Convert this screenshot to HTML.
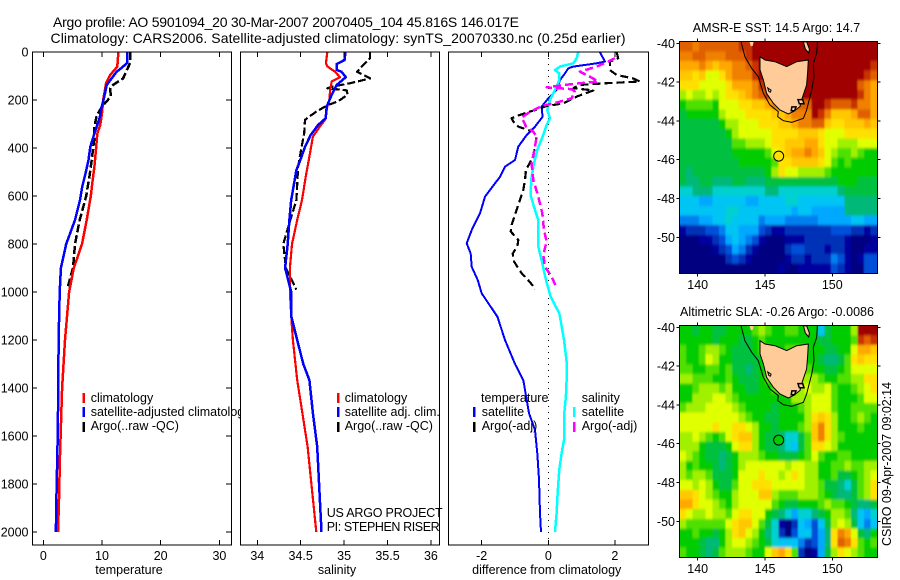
<!DOCTYPE html>
<html lang="en">
<head>
<meta charset="utf-8">
<title>Argo profile AO 5901094_20</title>
<style>
html,body{margin:0;padding:0;background:#fff;width:900px;height:580px;overflow:hidden}
svg{display:block}
text{font-family:"Liberation Sans",sans-serif;font-size:12.5px;fill:#000}
.ttl{font-size:14px}
</style>
</head>
<body>
<svg xmlns="http://www.w3.org/2000/svg" width="900" height="580" viewBox="0 0 900 580">
<defs>
<filter id="map-smooth" filterUnits="userSpaceOnUse" x="660" y="20" width="240" height="560"><feGaussianBlur stdDeviation="0.9 1.3"/></filter>
<clipPath id="sst-clip"><rect x="679.5" y="41.5" width="198" height="232"/></clipPath>
<clipPath id="sla-clip"><rect x="679.5" y="325.5" width="198" height="232"/></clipPath>
</defs>
<rect x="0" y="0" width="900" height="580" fill="#fff"/>
<text class="ttl" x="53" y="27" textLength="466" lengthAdjust="spacing">Argo profile: AO 5901094_20 30-Mar-2007 20070405_104 45.816S 146.017E</text>
<text class="ttl" x="50.5" y="43" textLength="575" lengthAdjust="spacing">Climatology: CARS2006. Satellite-adjusted climatology: synTS_20070330.nc (0.25d earlier)</text>

<g id="temp-panel">
<g id="temp-marks"></g>
<g id="temp-axes"></g>
<text x="90.7" y="402">climatology</text>
<text x="90.7" y="416">satellite-adjusted climatology</text>
<text x="90.7" y="430">Argo(..raw -QC)</text>
<text x="129" y="574" text-anchor="middle">temperature</text>
</g>

<g id="sal-panel">
<rect x="240" y="46" width="200" height="500" fill="#fff"/>
<g id="sal-marks"></g>
<g id="sal-axes"></g>
<text x="344.7" y="402">climatology</text>
<text x="344.7" y="416">satellite adj. clim.</text>
<text x="344.7" y="430">Argo(..raw -QC)</text>
<text x="326.7" y="517" textLength="116" lengthAdjust="spacing">US ARGO PROJECT</text>
<text x="326.7" y="531" textLength="113" lengthAdjust="spacing">PI: STEPHEN RISER</text>
<text x="337" y="574" text-anchor="middle">salinity</text>
</g>

<g id="diff-panel">
<g id="diff-marks"></g>
<g id="diff-axes"></g>
<text x="481" y="402">temperature</text>
<text x="481.7" y="416">satellite</text>
<text x="481.7" y="430">Argo(-adj)</text>
<text x="581.7" y="402">salinity</text>
<text x="581.7" y="416">satellite</text>
<text x="581.7" y="430">Argo(-adj)</text>
<text x="546.7" y="574" text-anchor="middle">difference from climatology</text>
</g>

<text x="692.7" y="32" textLength="167.5" lengthAdjust="spacing">AMSR-E SST: 14.5 Argo: 14.7</text>
<g id="sst-map"></g>
<text x="680" y="316" textLength="194" lengthAdjust="spacing">Altimetric SLA: -0.26 Argo: -0.0086</text>
<g id="sla-map"></g>
<text transform="translate(891,546) rotate(-90)" textLength="164" lengthAdjust="spacing">CSIRO 09-Apr-2007 09:02:14</text>
</svg>

<script>
// ---- shared depth axis ----
const depthTicks = [0,200,400,600,800,1000,1200,1400,1600,1800,2000];
const tempTicks = [0,10,20,30];
const salTicks = [34,34.5,35,35.5,36];
const salTickLabels = ['34','34.5','35','35.5','36'];
const diffTicks = [-2,0,2];
const diffTickLabels = ['-2','0','2'];

// ---- temperature panel ----
const tempClimDepth = [0,61,96,130,200,255,304,340,400,478,546,600,700,800,900,1000,1200,1400,1560,1680,1850,2000];
const tempClim = [12.8,12.6,11.4,10.7,10.2,10.0,9.7,9.2,9.0,8.7,8.35,8.1,7.4,6.6,5.2,4.4,3.7,3.2,3.0,2.85,2.7,2.5];
const tempSatDepth = [0,45,61,82,110,137,186,228,270,340,395,450,505,560,617,700,800,900,1000,1200,1400,1600,1900,2000];
const tempSat = [14.3,14.3,13.6,12.5,11.65,10.8,10.4,9.95,9.65,8.7,8.0,7.7,7.2,6.65,6.25,5.4,3.9,3.0,2.8,2.6,2.55,2.45,2.2,2.15];
const tempArgoDepth = [0,45,110,137,151,186,208,228,265,311,367,450,520,600,700,800,900,985];
const tempArgo = [14.8,14.8,13.6,11.9,11.4,11.5,10.7,10.0,9.1,8.7,8.65,8.25,7.85,7.3,6.2,5.4,5.06,4.1];

// ---- salinity panel ----
const salClimDepth = [0,47,61,82,105,123,158,200,228,283,311,353,436,520,617,700,800,900,1000,1100,1200,1367,1505,1644,2000];
const salClim = [34.807,34.79,34.81,34.895,34.953,34.857,34.84,34.83,34.807,34.78,34.72,34.64,34.6,34.558,34.515,34.46,34.4,34.375,34.375,34.39,34.41,34.46,34.52,34.58,34.68];
const salSatDepth = [0,33,50,75,82,105,137,178,228,276,304,346,395,436,492,576,617,700,800,900,1000,1100,1200,1300,1367,1505,1644,2000];
const salSat = [35.014,35.007,34.915,34.915,34.97,35.02,34.915,34.857,34.8,34.788,34.7,34.615,34.55,34.51,34.45,34.41,34.39,34.37,34.35,34.32,34.39,34.39,34.46,34.53,34.6,34.64,34.69,34.74];
const salArgoDepth = [0,26,54,82,110,130,142,151,160,178,206,220,248,283,339,395,478,617,700,800,900,990];
const salArgo = [35.3,35.3,35.22,35.15,35.3,35.07,34.895,34.807,35.03,35.04,34.93,34.82,34.68,34.55,34.54,34.51,34.47,34.45,34.38,34.3,34.33,34.45];

// ---- difference panel ----
const diffTempSatDepth = [0,40,47,61,68,89,117,158,193,228,270,311,346,394,450,478,520,575,603,672,742,797,840,895,950,1006,1047,1103,1200,1300,1367,1505,1575,1672,1780,1922,2000];
const diffTempSat = [1.55,1.7,1.45,0.75,0.6,0.5,0.35,0.25,0,-0.2,-0.17,-0.4,-0.65,-0.9,-1.0,-1.3,-1.45,-1.75,-1.9,-2.05,-2.3,-2.45,-2.33,-2.3,-2.12,-2.0,-1.8,-1.53,-1.3,-1.0,-0.75,-0.58,-0.4,-0.33,-0.28,-0.25,-0.22];
const diffSalSatDepth = [0,26,47,61,75,89,117,144,172,200,242,276,304,353,408,464,520,575,603,672,700,811,880,950,1019,1089,1117,1200,1300,1367,1435,1505,1610,1672,1740,1840,1922,2000];
const diffSalSat = [0.9,0.85,0.75,0.35,0.2,0.33,0.33,0.25,0.15,0.05,-0.03,0.05,-0.05,-0.17,-0.33,-0.43,-0.5,-0.53,-0.52,-0.37,-0.3,-0.3,-0.18,-0.07,0.07,0.33,0.37,0.47,0.56,0.55,0.53,0.48,0.48,0.4,0.33,0.28,0.25,0.2];
const diffTempArgoDepth = [0,26,40,75,96,110,123,130,137,151,160,186,214,225,235,262,276,290,311,332,353,394,436,491,533,575,603,637,665,720,748,783,811,840,873,901,922,956,988];
const diffTempArgo = [2.05,2.1,1.85,1.85,2.05,2.55,2.75,1.75,0.95,0.75,1.35,0.85,0.45,-0.05,-0.25,-0.85,-1.1,-1.05,-0.9,-0.45,-0.35,-0.4,-0.45,-0.67,-0.7,-0.75,-0.82,-0.9,-0.97,-1.1,-1.13,-0.9,-0.93,-1.07,-1.03,-0.9,-0.8,-0.57,-0.38];
const diffSalArgoDepth = [26,40,61,82,103,123,133,147,155,165,193,211,225,249,272,311,332,353,394,464,533,603,672,742,790,846,895,936,978];
const diffSalArgo = [2.0,1.8,1.45,0.95,1.25,1.5,0.75,-0.05,0.7,0.8,0.7,0.25,-0.2,-0.55,-0.8,-0.67,-0.45,-0.35,-0.4,-0.5,-0.45,-0.3,-0.18,-0.13,-0.05,-0.15,-0.1,0.1,0.23];

// ---- map axes ----
const lonTicks = [140,145,150];
const latTicks = [-40,-42,-44,-46,-48,-50];
const gridLonStart = 138.63;
const gridLonStep = 0.4903;
const gridLatStart = -39.92;
const gridLatStep = -0.4975;
const floatPosition = [146.017,-45.816];
const sstFloatLevel = [14];
const slaFloatLevel = [10];

// colour levels 0 (lowest) to 20 (highest)
const colourLevels = ['#000080','#0000a0','#0030b8','#0050d8','#0080f0','#00a8ff','#00c4f4','#00d0d0','#00b878','#00c040','#00cc00','#50e000','#a0f000','#e0ff00','#ffe000','#ffc800','#ffa800','#f08000','#e06000','#c83000','#a00000'];

const sstGrid = [
[18,18,17,18,18,18,18,18,18,19,19,20,20,20,20,20,20,20,20,20,20,20,20,20,20,20,20,20,20,20],
[17,17,18,18,17,17,17,18,18,18,19,20,20,20,20,20,20,20,20,20,20,20,20,20,20,20,20,20,20,20],
[16,16,16,17,16,15,16,16,17,17,18,19,20,20,20,20,20,20,20,20,20,20,20,20,20,20,20,20,20,19],
[15,15,14,15,13,13,14,16,17,17,17,19,20,20,20,20,20,20,20,20,20,20,20,20,20,20,20,20,19,18],
[14,14,14,13,13,13,13,14,16,16,16,17,19,20,20,20,20,20,20,20,20,20,20,20,20,20,20,18,17,16],
[12,13,12,12,13,12,13,14,14,15,16,17,18,19,20,20,20,20,20,20,20,20,20,20,20,20,20,19,17,16],
[10,11,11,11,11,10,13,13,13,14,14,15,15,16,17,18,18,18,18,18,20,20,19,18,18,18,19,17,17,16],
[9,10,10,10,10,10,12,13,13,13,14,14,14,14,15,15,16,17,17,17,20,19,17,15,15,15,16,18,18,16],
[9,9,9,9,9,9,10,12,12,13,13,13,14,14,14,15,15,16,17,17,18,18,15,14,14,15,15,15,16,15],
[9,9,9,9,9,9,9,10,12,13,13,13,13,13,14,14,14,14,15,15,15,14,13,13,13,14,14,14,14,14],
[9,9,9,9,9,9,9,9,11,11,12,12,12,13,14,14,15,15,15,16,16,14,13,13,12,12,12,13,13,13],
[9,9,9,9,9,9,9,9,10,10,10,10,10,11,13,14,15,16,16,17,16,15,13,12,11,11,12,11,10,10],
[9,9,9,9,9,9,9,9,9,10,10,10,10,10,11,14,14,15,15,15,15,14,13,11,10,11,10,10,10,10],
[9,8,9,9,9,9,9,9,9,9,9,9,9,10,12,14,13,13,12,12,12,12,11,10,10,10,10,10,10,10],
[9,8,8,9,9,8,8,8,9,9,8,8,8,9,9,9,9,9,9,9,9,9,9,9,10,10,10,9,9,9],
[7,7,8,8,8,7,7,7,7,7,7,7,7,8,8,7,7,7,7,7,7,7,7,7,8,9,9,9,9,9],
[6,6,6,5,5,6,6,6,6,6,5,5,6,6,6,6,7,7,6,6,6,6,6,6,6,8,8,8,8,8],
[6,6,6,6,6,6,6,7,7,6,6,6,6,6,6,6,6,5,6,6,5,5,5,5,5,8,8,8,8,8],
[4,4,4,5,5,6,6,7,6,6,6,6,4,5,5,5,4,4,4,4,4,5,5,5,5,5,6,6,5,5],
[1,2,2,2,3,3,4,6,6,5,5,5,3,2,1,1,2,2,2,2,2,2,2,3,3,3,2,2,1,2],
[0,0,0,1,1,2,3,5,6,5,4,3,1,0,0,0,1,1,1,2,2,2,2,2,2,1,0,0,0,1],
[0,0,0,0,0,1,2,3,5,4,2,1,0,0,0,0,2,3,3,2,2,2,1,2,2,1,0,0,1,1],
[0,0,0,0,0,0,0,2,3,2,1,0,0,0,0,0,1,2,2,1,2,2,2,4,3,1,0,1,3,3],
[0,0,0,0,0,0,0,0,0,0,0,0,0,0,0,1,0,0,1,1,1,1,1,3,2,1,0,0,3,3]
];

const slaGrid = [
[10,10,9,10,10,9,9,10,10,10,10,11,12,11,10,10,11,11,10,10,10,6,9,10,10,10,12,20,20,20],
[10,10,10,10,10,9,10,10,10,9,9,10,11,10,10,10,10,10,10,10,10,9,9,10,10,10,11,19,18,19],
[11,10,10,11,12,12,11,10,9,9,9,10,11,11,10,10,11,11,11,10,10,10,9,9,10,10,13,16,16,15],
[11,10,10,11,13,12,10,10,9,9,9,9,10,12,10,10,10,10,10,10,10,9,8,8,9,11,14,15,14,14],
[11,11,10,10,11,11,10,11,9,9,8,9,10,11,11,11,11,11,11,11,10,10,9,9,10,11,13,13,13,13],
[12,12,11,11,11,10,10,11,10,9,9,9,10,11,11,11,11,11,12,12,12,11,10,10,11,11,12,12,14,14],
[10,10,11,12,12,12,11,12,10,10,9,9,10,10,11,11,11,11,12,13,12,12,13,11,10,10,11,12,13,14],
[10,10,12,12,12,13,13,12,11,10,10,10,10,10,10,10,10,12,12,12,13,13,13,11,10,10,10,11,13,13],
[11,12,12,12,13,13,13,13,12,11,10,10,10,10,9,10,10,10,11,12,13,13,13,11,10,10,11,11,11,11],
[13,13,13,13,13,13,13,13,13,12,11,10,10,9,9,10,10,10,10,12,14,15,14,12,10,10,11,12,11,10],
[13,13,13,13,13,14,13,13,14,14,13,12,10,10,9,10,10,10,11,12,15,17,14,12,10,10,10,11,10,10],
[12,12,13,12,11,10,11,13,14,15,15,12,10,9,9,8,7,7,9,11,15,17,14,12,11,10,10,10,10,10],
[12,12,12,10,9,9,9,10,13,14,14,12,10,9,9,8,7,6,9,11,14,14,13,12,10,10,10,10,10,10],
[13,12,11,10,9,9,8,9,10,12,12,12,11,10,10,9,9,9,10,11,13,11,10,10,11,11,10,10,10,10],
[12,10,11,10,10,9,8,9,10,12,13,13,13,13,13,13,12,13,13,12,12,10,10,11,11,12,11,11,12,12],
[12,11,12,12,11,9,9,9,10,13,13,13,14,13,13,12,13,14,13,12,12,10,10,11,9,9,10,11,12,13],
[13,13,12,13,12,10,9,9,11,13,13,14,14,14,13,13,13,13,13,12,12,11,9,9,8,7,9,11,12,14],
[15,15,14,13,12,11,10,10,12,13,13,13,15,15,12,11,11,11,12,12,12,11,10,9,8,8,9,11,12,14],
[16,16,14,13,13,12,11,10,12,13,13,13,13,13,11,10,9,9,10,10,10,11,12,11,11,10,9,8,8,9],
[14,13,12,12,13,12,12,11,13,14,14,13,13,10,9,8,7,5,7,7,8,9,10,12,12,11,8,6,5,7],
[12,11,11,11,11,11,11,13,14,15,15,13,11,9,7,1,0,2,6,5,3,6,9,12,13,12,9,6,4,6],
[10,10,11,10,10,9,10,12,14,15,13,12,10,8,7,2,0,3,6,6,3,5,8,14,17,16,13,9,8,10],
[10,10,10,9,8,8,10,12,13,13,12,11,10,9,7,6,6,6,4,2,3,5,8,14,18,17,14,11,10,11],
[11,10,10,9,8,9,11,12,12,12,11,10,10,13,15,16,14,11,2,0,1,5,9,12,14,13,12,11,10,10]
];

// coastline and depth contour, as lon / lat
const tasmaniaLon = [144.63,145.0,145.74,146.61,147.35,148.22,148.17,148.09,147.72,147.6,147.1,146.73,146.11,145.62,145.12,144.88,144.63];
const tasmaniaLat = [-40.69,-40.86,-40.95,-41.2,-40.95,-40.86,-41.46,-42.15,-42.92,-43.26,-43.52,-43.64,-43.44,-43.09,-42.58,-41.89,-41.37];
const contourLon = [143.22,143.51,144.01,144.5,144.88,145.37,145.99,145.94,146.36,146.98,147.85,148.09,148.47,148.64,148.59,148.84,148.89];
const contourLat = [-39.91,-40.69,-41.29,-41.72,-42.58,-43.18,-43.52,-43.78,-43.99,-44.07,-43.87,-43.44,-42.41,-41.72,-41.03,-40.52,-39.91];
const flindersLon = [147.85,148.1,148.3,148.25,148.0];
const flindersLat = [-39.93,-39.93,-40.3,-40.5,-40.3];
const kingLon = [143.85,144.15,144.1,143.95];
const kingLat = [-39.93,-39.93,-40.12,-40.16];
const reefALon = [147.45,147.8,147.9,147.55];
const reefALat = [-42.9,-42.9,-43.12,-43.12];
const reefBLon = [147.0,147.3,147.2,146.95];
const reefBLat = [-43.28,-43.28,-43.48,-43.48];
const reefCLon = [145.2,145.45,145.4,145.28];
const reefCLat = [-42.3,-42.42,-42.52,-42.48];

// ---- scales ----
const SVGNS = 'http://www.w3.org/2000/svg';
const depthY = d => 52 + d * 0.24;
const tempX = t => 43.3 + t * 5.87;
const salX = s => 257.3 + (s - 34) * 86.8;
const diffX = v => 548.3 + v * 33.3;
const mapX = lon => 697.7 + (lon - 140) * 13.46;
const mapLatY = top => lat => top + (-40 - lat) * 19.4;

function make(parent, tag, name, props) {
  const el = document.createElementNS(SVGNS, tag);
  
  
  for (const k in props) el.setAttribute(k, props[k]);
  parent.appendChild(el);
  return el;
}
function line(parent, name, x1, y1, x2, y2, extra) {
  return make(parent, 'line', name, Object.assign({x1, y1, x2, y2, stroke: '#000', 'stroke-width': 1, 'shape-rendering': 'crispEdges'}, extra || {}));
}
function label(parent, name, x, y, str, anchor) {
  const el = make(parent, 'text', name, {x, y, 'text-anchor': anchor});
  el.textContent = str;
  return el;
}
function profile(parent, name, xs, ds, sx, colour, width, dash) {
  const pts = xs.map((v, i) => sx(v).toFixed(1) + ',' + depthY(ds[i]).toFixed(1)).join(' ');
  const props = {points: pts, fill: 'none', stroke: colour, 'stroke-width': width, 'stroke-linejoin': 'round', 'shape-rendering': 'crispEdges'};
  if (dash) props['stroke-dasharray'] = dash;
  return make(parent, 'polyline', name, props);
}
function frame(parent, name, l, t, r, b) {
  return make(parent, 'rect', name, {x: l, y: t, width: r - l, height: b - t, fill: 'none', stroke: '#000', 'stroke-width': 1, 'shape-rendering': 'crispEdges'});
}
function legendBar(parent, name, x, y, colour) {
  line(parent, name, x, y, x, y + 10, {stroke: colour, 'stroke-width': 2.5});
}

const L = {top: 52, bottom: 545};

// ---- temperature panel ----
(function () {
  const m = document.getElementById('temp-marks');
  const a = document.getElementById('temp-axes');
  profile(m, 'argo-temperature-line', tempArgo, tempArgoDepth, tempX, '#000', 2.5, '8 3');
  profile(m, 'climatology-temperature-line', tempClim, tempClimDepth, tempX, '#f00', 2.5);
  profile(m, 'satellite-temperature-line', tempSat, tempSatDepth, tempX, '#00f', 2.5);
  frame(a, 'temperature-plot-frame', 32.5, L.top, 231.5, L.bottom);
  depthTicks.forEach(d => {
    line(a, 'depth-tick-left', 32, depthY(d), 37, depthY(d));
    line(a, 'depth-tick-right', 226, depthY(d), 231, depthY(d));
    label(a, 'depth-tick-label', 28.5, depthY(d) + 4.5, String(d), 'end');
  });
  tempTicks.forEach(t => {
    line(a, 'temperature-tick-top', tempX(t), L.top, tempX(t), L.top + 5);
    line(a, 'temperature-tick-bottom', tempX(t), L.bottom - 5, tempX(t), L.bottom);
    label(a, 'temperature-tick-label', tempX(t), 560, String(t), 'middle');
  });
  legendBar(a, 'legend-climatology-swatch', 83.5, 393, '#f00');
  legendBar(a, 'legend-satellite-swatch', 83.5, 407, '#00f');
  legendBar(a, 'legend-argo-swatch', 83.5, 422, '#000');
})();

// ---- salinity panel ----
(function () {
  const m = document.getElementById('sal-marks');
  const a = document.getElementById('sal-axes');
  profile(m, 'argo-salinity-line', salArgo, salArgoDepth, salX, '#000', 2.2, '8 3');
  profile(m, 'climatology-salinity-line', salClim, salClimDepth, salX, '#f00', 2.2);
  profile(m, 'satellite-salinity-line', salSat, salSatDepth, salX, '#00f', 2.5);
  frame(a, 'salinity-plot-frame', 240.5, L.top, 439.5, L.bottom);
  salTicks.forEach((s, i) => {
    line(a, 'salinity-tick-top', salX(s), L.top, salX(s), L.top + 5);
    line(a, 'salinity-tick-bottom', salX(s), L.bottom - 5, salX(s), L.bottom);
    label(a, 'salinity-tick-label', salX(s), 560, salTickLabels[i], 'middle');
  });
  legendBar(a, 'legend-climatology-swatch', 338, 393, '#f00');
  legendBar(a, 'legend-satellite-swatch', 338, 407, '#00f');
  legendBar(a, 'legend-argo-swatch', 338, 422, '#000');
})();

// ---- difference panel ----
(function () {
  const m = document.getElementById('diff-marks');
  const a = document.getElementById('diff-axes');
  line(m, 'zero-reference-line', diffX(0), L.top, diffX(0), L.bottom, {'stroke-dasharray': '1 5'});
  profile(m, 'temperature-satellite-difference-line', diffTempSat, diffTempSatDepth, diffX, '#00f', 2);
  profile(m, 'salinity-satellite-difference-line', diffSalSat, diffSalSatDepth, diffX, '#0ff', 2.5);
  profile(m, 'temperature-argo-difference-line', diffTempArgo, diffTempArgoDepth, diffX, '#000', 2.2, '8 4');
  profile(m, 'salinity-argo-difference-line', diffSalArgo, diffSalArgoDepth, diffX, '#f0f', 2.5, '8 4');
  frame(a, 'difference-plot-frame', 448.5, L.top, 648.5, L.bottom);
  diffTicks.forEach((v, i) => {
    line(a, 'difference-tick-top', diffX(v), L.top, diffX(v), L.top + 5);
    line(a, 'difference-tick-bottom', diffX(v), L.bottom - 5, diffX(v), L.bottom);
    label(a, 'difference-tick-label', diffX(v), 560, diffTickLabels[i], 'middle');
  });
  legendBar(a, 'legend-temp-satellite-swatch', 474, 407, '#00f');
  legendBar(a, 'legend-temp-argo-swatch', 474, 422, '#000');
  legendBar(a, 'legend-sal-satellite-swatch', 574, 407, '#0ff');
  legendBar(a, 'legend-sal-argo-swatch', 574, 422, '#f0f');
})();

// ---- maps ----
function poly(parent, name, lons, lats, my, fill, stroke, width) {
  const pts = lons.map((v, i) => mapX(v).toFixed(1) + ',' + my(lats[i]).toFixed(1)).join(' ');
  return make(parent, 'polygon', name, {points: pts, fill, stroke, 'stroke-width': width});
}
function drawMap(id, clipId, grid, latOrigin, frameTop, frameBottom, floatLevel, tickBase) {
  const g = document.getElementById(id);
  const my = mapLatY(latOrigin);
  const clip = make(g, 'g', 'map-image-clip', {'clip-path': 'url(#' + clipId + ')'});
  const cells = make(clip, 'g', 'map-cells', {filter: 'url(#map-smooth)'});
  const lastRow = grid.length - 1;
  grid.forEach((row, r) => {
    const lastCol = row.length - 1;
    row.forEach((v, c) => {
      const lon0 = gridLonStart + c * gridLonStep;
      const lat0 = gridLatStart + r * gridLatStep;
      const x0 = mapX(lon0);
      const y0 = my(lat0);
      const padL = c === 0 ? 10 : 0;
      const padR = c === lastCol ? 10 : 0;
      const padT = r === 0 ? 10 : 0;
      const padB = r === lastRow ? 10 : 0;
      make(cells, 'rect', 'map-cell', {
        x: (x0 - padL).toFixed(2),
        y: (y0 - padT).toFixed(2),
        width: (mapX(lon0 + gridLonStep) - x0 + 0.4 + padL + padR).toFixed(2),
        height: (my(lat0 + gridLatStep) - y0 + 0.4 + padT + padB).toFixed(2),
        fill: colourLevels[v],
        'shape-rendering': 'crispEdges'
      });
    });
  });
  const contourPts = contourLon.map((v, i) => mapX(v).toFixed(1) + ',' + my(contourLat[i]).toFixed(1)).join(' ');
  make(g, 'polyline', 'depth-contour', {points: contourPts, fill: 'none', stroke: '#000', 'stroke-width': 1});
  poly(g, 'tasmania-land', tasmaniaLon, tasmaniaLat, my, '#ffcc99', '#000', 1);
  poly(g, 'flinders-island', flindersLon, flindersLat, my, '#ffcc99', '#000', 1);
  poly(g, 'king-island', kingLon, kingLat, my, '#ffcc99', 'none', 0);
  poly(g, 'southeast-islands-a', reefALon, reefALat, my, '#ffcc99', '#000', 1.5);
  poly(g, 'southeast-islands-b', reefBLon, reefBLat, my, '#ffcc99', '#000', 1.5);
  poly(g, 'west-coast-inlet', reefCLon, reefCLat, my, '#ffcc99', '#000', 1);
  make(g, 'circle', 'argo-float-marker', {cx: mapX(floatPosition[0]), cy: my(floatPosition[1]), r: 5, fill: colourLevels[floatLevel[0]], stroke: '#000', 'stroke-width': 1});
  frame(g, 'map-frame', 679.5, frameTop, 877.5, frameBottom);
  lonTicks.forEach(lon => {
    line(g, 'longitude-tick-top', mapX(lon), frameTop - 3, mapX(lon), frameTop);
    line(g, 'longitude-tick-bottom', mapX(lon), frameBottom, mapX(lon), frameBottom + 3);
    label(g, 'longitude-tick-label', mapX(lon), tickBase, String(lon), 'middle');
  });
  latTicks.forEach(lat => {
    line(g, 'latitude-tick-left', 676.5, my(lat), 679.5, my(lat));
    line(g, 'latitude-tick-right', 877.5, my(lat), 880.5, my(lat));
    label(g, 'latitude-tick-label', 675, my(lat) + 4.5, String(lat), 'end');
  });
}
drawMap('sst-map', 'sst-clip', sstGrid, 43.3, 41.5, 273.5, sstFloatLevel, 289);
drawMap('sla-map', 'sla-clip', slaGrid, 327.3, 325.5, 557.5, slaFloatLevel, 573);
</script>
</body>
</html>
